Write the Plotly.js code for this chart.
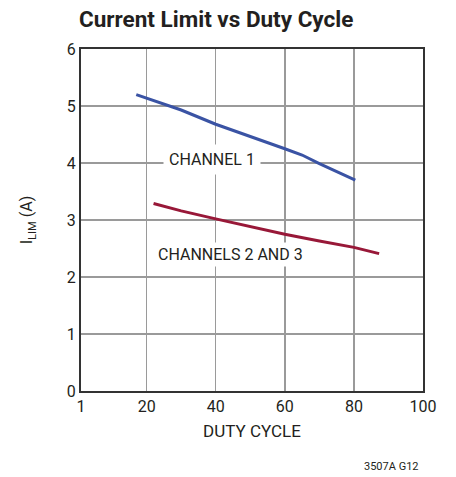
<!DOCTYPE html>
<html>
<head>
<meta charset="utf-8">
<script src="https://cdn.plot.ly/plotly-3.0.1.min.js"></script>
<style>html,body{margin:0;padding:0;background:#fff;}#chart{width:456px;height:477px;}</style>
</head>
<body>
<div id="chart"></div>
<script>
const ch1Duty = [17, 20, 30, 40, 50, 60, 65, 70, 80.4];
const ch1Ilim = [5.20, 5.14, 4.93, 4.68, 4.47, 4.25, 4.14, 3.99, 3.70];
const ch23Duty = [22, 30, 40, 50, 60, 70, 80, 87.3];
const ch23Ilim = [3.29, 3.16, 3.02, 2.88, 2.75, 2.63, 2.52, 2.41];
const xTickVals = [1, 20, 40, 60, 80, 100];
const xTickText = ['1', '20', '40', '60', '80', '100'];
const yTickVals = [0, 1, 2, 3, 4, 5, 6];

const FONT = 'Roboto, "Liberation Sans", sans-serif';

const traces = [
  {x: ch1Duty, y: ch1Ilim, mode: 'lines', line: {color: '#3a53a4', width: 3}, name: 'CHANNEL 1'},
  {x: ch23Duty, y: ch23Ilim, mode: 'lines', line: {color: '#981838', width: 3}, name: 'CHANNELS 2 AND 3'}
];

const layout = {
  width: 456, height: 477,
  margin: {l: 81, r: 33, t: 49, b: 86},
  paper_bgcolor: '#fff', plot_bgcolor: '#fff',
  showlegend: false,
  font: {family: FONT, color: '#231f20', size: 16},
  title: {text: '<b>Current Limit vs Duty Cycle</b>', font: {family: FONT, size: 22.5, color: '#231f20'},
          x: 79/456, xanchor: 'left', y: 1 - 19/477, yanchor: 'middle'},
  xaxis: {
    range: [1, 100], tickvals: xTickVals, ticktext: xTickText,
    showgrid: true, gridcolor: '#9a9a9a', gridwidth: 1.5,
    showline: true, mirror: true, linecolor: '#333', linewidth: 2,
    zeroline: false, ticks: '', ticklen: 0,
    tickfont: {family: FONT, size: 16, color: '#231f20'},
    title: {text: 'DUTY CYCLE', font: {family: FONT, size: 17, color: '#231f20'}, standoff: 10}
  },
  yaxis: {
    range: [0, 6], tickvals: yTickVals,
    showgrid: true, gridcolor: '#9a9a9a', gridwidth: 1.5,
    showline: true, mirror: true, linecolor: '#333', linewidth: 2,
    zeroline: false, ticks: '', ticklen: 0,
    tickfont: {family: FONT, size: 16, color: '#231f20'},
    title: {text: 'I<sub>LIM</sub> (A)', font: {family: FONT, size: 16, color: '#231f20'}, standoff: 30}
  },
  annotations: [
    {x: 38.8, y: 4.07, xref: 'x', yref: 'y', text: 'CHANNEL 1', showarrow: false,
     font: {family: FONT, size: 16, color: '#231f20'}, bgcolor: '#fff', borderpad: 5},
    {x: 44.4, y: 2.39, xref: 'x', yref: 'y', text: 'CHANNELS 2 AND 3', showarrow: false,
     font: {family: FONT, size: 16, color: '#231f20'}, bgcolor: '#fff', borderpad: 2},
    {x: (421 - 81) / 342, y: (391 - 466) / 342, xref: 'paper', yref: 'paper', xanchor: 'right', yanchor: 'middle',
     text: '3507A G12', showarrow: false, font: {family: FONT, size: 11, color: '#231f20'}}
  ]
};

Plotly.newPlot('chart', traces, layout, {displayModeBar: false, staticPlot: true});
</script>
</body>
</html>
